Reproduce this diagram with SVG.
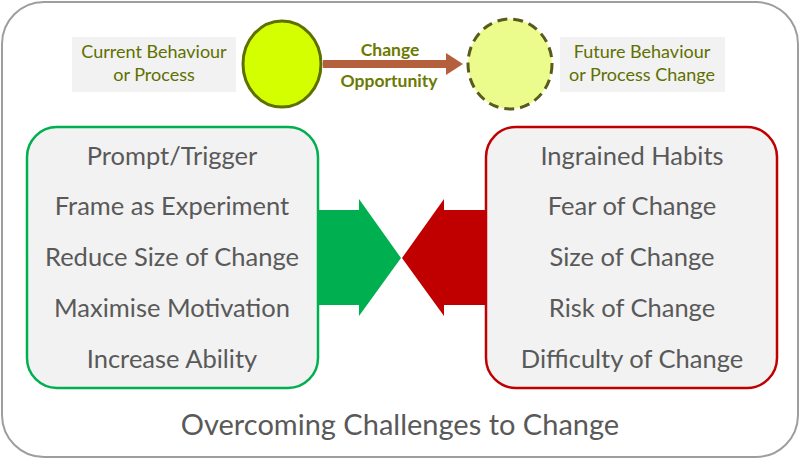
<svg xmlns="http://www.w3.org/2000/svg" width="800" height="460" viewBox="0 0 800 460">
<style>
.lbl{font-family:Lato,"Open Sans",sans-serif;fill:#5f7000;font-size:18px;text-anchor:middle}
.opp{font-family:Lato,"Open Sans",sans-serif;fill:#6b7a00;font-size:17.5px;font-weight:bold;text-anchor:middle}
.item{font-family:Lato,"Open Sans",sans-serif;fill:#595959;font-size:25.5px;text-anchor:middle}
.box{fill:#f2f2f2}
</style>
<rect x="2" y="2" width="796" height="455" rx="42" fill="#fff" stroke="#9e9e9e" stroke-width="2"/>
<g id="current"><rect class="box" x="72" y="37" width="164" height="55"/>
<text class="lbl" x="154" y="58">Current Behaviour</text><text class="lbl" x="154" y="81">or Process</text></g>
<g id="c1"><ellipse cx="282" cy="64" rx="39" ry="43" fill="#d4ff00" stroke="#5f7000" stroke-width="3"/></g>
<g id="c2"><ellipse cx="510" cy="64" rx="42" ry="45" fill="#ecfc8c" stroke="#5a5a1c" stroke-width="3" stroke-dasharray="10,6"/></g>
<g id="future"><rect class="box" x="560" y="37" width="165" height="55"/>
<text class="lbl" x="642" y="58">Future Behaviour</text><text class="lbl" x="642" y="81">or Process Change</text></g>
<g id="connectors">
<path d="M323 60 H446 V53 L463 64 L446 75 V68 H323 Z" fill="#b5603c"/>
<text class="opp" x="390" y="56">Change</text><text class="opp" x="389" y="87">Opportunity</text>
</g>
<g id="left"><rect class="box" x="27" y="127" width="291" height="261" rx="30" stroke="#00b050" stroke-width="2.5"/>
<text class="item" x="172" y="165">Prompt/Trigger</text>
<text class="item" x="172" y="215">Frame as Experiment</text>
<text class="item" x="172" y="266">Reduce Size of Change</text>
<text class="item" x="172" y="317">Maximise Motivation</text>
<text class="item" x="172" y="368">Increase Ability</text></g>
<g id="right"><rect class="box" x="486" y="127" width="291" height="261" rx="30" stroke="#c00000" stroke-width="2.5"/>
<text class="item" x="632" y="165">Ingrained Habits</text>
<text class="item" x="632" y="215">Fear of Change</text>
<text class="item" x="632" y="266">Size of Change</text>
<text class="item" x="632" y="317">Risk of Change</text>
<text class="item" x="632" y="368">Difficulty of Change</text></g>
<g id="greenArrow"><path d="M317 210 H359 V199 L401 258 L359 316 V305 H317 Z" fill="#00b050"/></g>
<g id="redArrow"><path d="M485 210 H444 V199 L402 258 L444 316 V305 H485 Z" fill="#c00000"/></g>
<g id="title"><text x="400" y="435" font-family="Lato,'Open Sans',sans-serif" font-size="29" fill="#595959" text-anchor="middle">Overcoming Challenges to Change</text></g>
</svg>
